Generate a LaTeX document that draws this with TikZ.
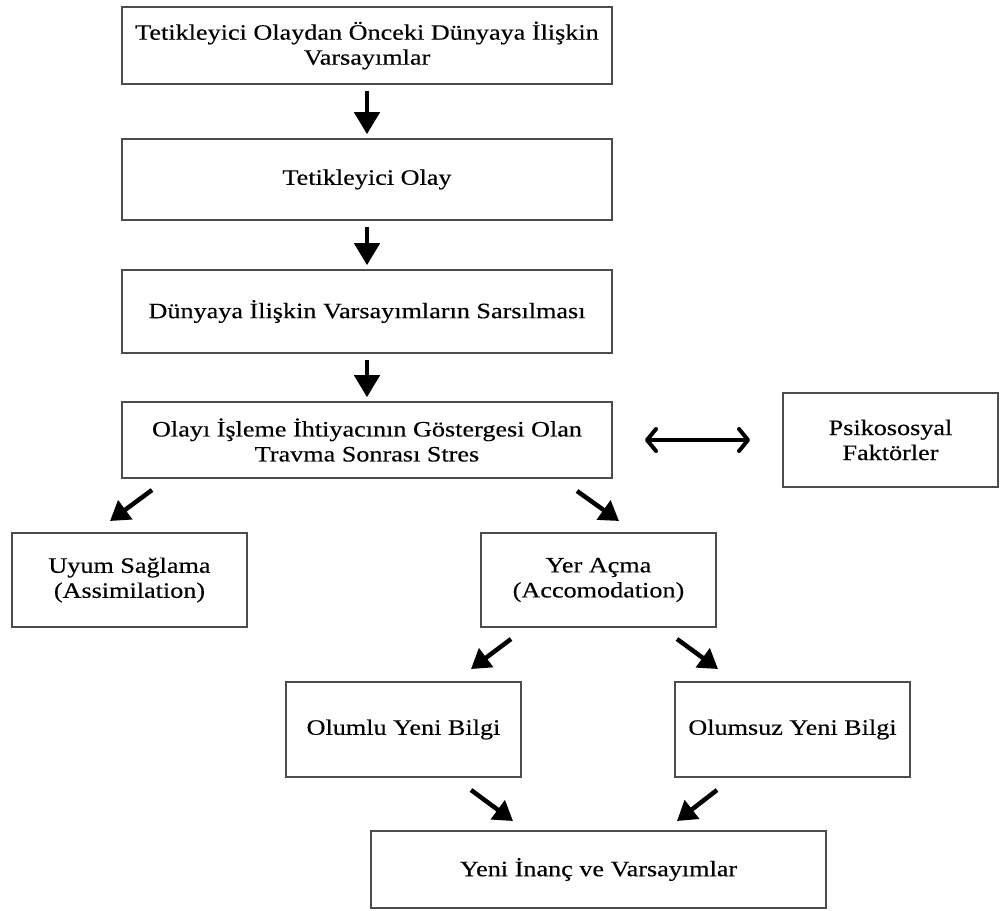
\documentclass[tikz,border=0pt]{standalone}
\usepackage{fontspec}
\setmainfont{Liberation Serif}[FakeStretch=1.19,FakeBold=0.3]
\usetikzlibrary{arrows.meta}
\begin{document}
\begin{tikzpicture}[x=1pt,y=-1pt,
  box/.style={draw=black!70,line width=1.6pt,rectangle,inner sep=0pt,align=center,
    font=\fontsize{22}{25}\selectfont},
  arr/.style={line width=4.5pt,-{Triangle[width=25pt,length=22pt]},shorten <=6pt,shorten >=4pt},
  darr/.style={line width=4.5pt,-{Triangle[width=23pt,length=19pt]}},
  barr/.style={line width=4pt,{Straight Barb[width=22pt,length=9pt,line cap=round,line join=round]}-{Straight Barb[width=22pt,length=9pt,line cap=round,line join=round]}}
]
\useasboundingbox (0,0) rectangle (1000,910);
\node[box,minimum width=490pt,minimum height=77pt] (b1) at (367,45.5) {Tetikleyici Olaydan Önceki Dünyaya İlişkin\\Varsayımlar};
\node[box,minimum width=490pt,minimum height=81pt] (b2) at (367,179.5) {Tetikleyici Olay};
\node[box,minimum width=490pt,minimum height=83pt] (b3) at (367,311.5) {Dünyaya İlişkin Varsayımların Sarsılması};
\node[box,minimum width=490pt,minimum height=76pt] (b4) at (367,440) {Olayı İşleme İhtiyacının Göstergesi Olan\\Travma Sonrası Stres};
\node[box,minimum width=215pt,minimum height=94pt] (psy) at (890.5,440) {Psikososyal\\Faktörler};
\node[box,minimum width=235pt,minimum height=94pt] (uyum) at (129.5,580) {Uyum Sağlama\\(Assimilation)};
\node[box,minimum width=235pt,minimum height=94pt] (yer) at (598.5,580) {Yer Açma\\(Accomodation)};
\node[box,minimum width=235pt,minimum height=95pt] (olumlu) at (403.5,729.5) {Olumlu Yeni Bilgi};
\node[box,minimum width=235pt,minimum height=95pt] (olumsuz) at (792.5,729.5) {Olumsuz Yeni Bilgi};
\node[box,minimum width=455pt,minimum height=77pt] (yeni) at (598.5,869.5) {Yeni İnanç ve Varsayımlar};
% vertical arrows
\draw[arr] (b1) -- (b2);
\draw[arr] (b2) -- (b3);
\draw[arr] (b3) -- (b4);
% double arrow
\coordinate (dbA) at (645,440);
\coordinate (dbB) at (750,440);
\draw[barr] (dbA) -- (dbB);
% diagonal arrows
\coordinate (d1s) at (152,490); \coordinate (d1e) at (110,521);
\coordinate (d2s) at (577,491); \coordinate (d2e) at (619,521);
\coordinate (d3s) at (511,639); \coordinate (d3e) at (471,669);
\coordinate (d4s) at (677,639); \coordinate (d4e) at (718,669);
\coordinate (d5s) at (471,790); \coordinate (d5e) at (513,821);
\coordinate (d6s) at (717,790); \coordinate (d6e) at (677,821);
\draw[darr] (d1s) -- (d1e);
\draw[darr] (d2s) -- (d2e);
\draw[darr] (d3s) -- (d3e);
\draw[darr] (d4s) -- (d4e);
\draw[darr] (d5s) -- (d5e);
\draw[darr] (d6s) -- (d6e);
\end{tikzpicture}
\end{document}
